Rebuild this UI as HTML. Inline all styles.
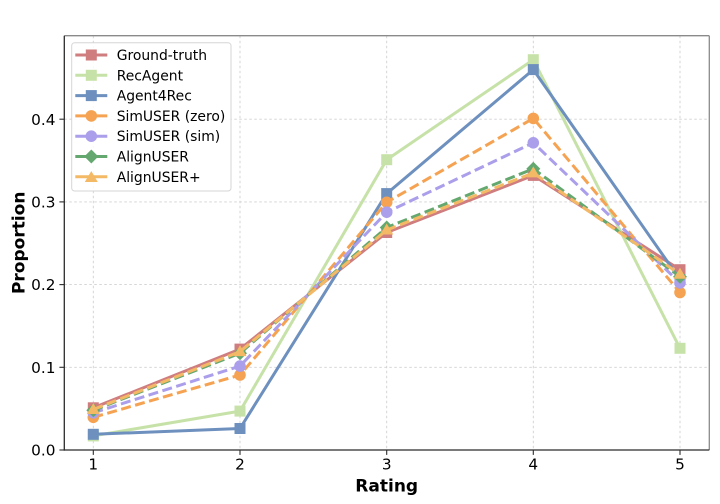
<!DOCTYPE html>
<html>
<head>
<meta charset="utf-8">
<style>
html,body{margin:0;padding:0;background:#fff;}
svg{display:block;}
text{font-family:"DejaVu Sans","Liberation Sans",sans-serif;fill:#000;}
</style>
</head>
<body>
<svg width="720" height="504" viewBox="0 0 720 504" xmlns="http://www.w3.org/2000/svg">
<rect x="0" y="0" width="720" height="504" fill="#fff"/>
<!-- grid -->
<g stroke="#d0d0d0" stroke-width="0.9" stroke-dasharray="2.5,2.5">
<line x1="93.3" y1="35.7" x2="93.3" y2="450"/>
<line x1="240" y1="35.7" x2="240" y2="450"/>
<line x1="386.7" y1="35.7" x2="386.7" y2="450"/>
<line x1="533.3" y1="35.7" x2="533.3" y2="450"/>
<line x1="680" y1="35.7" x2="680" y2="450"/>
<line x1="64.3" y1="367.3" x2="709.3" y2="367.3"/>
<line x1="64.3" y1="284.6" x2="709.3" y2="284.6"/>
<line x1="64.3" y1="201.9" x2="709.3" y2="201.9"/>
<line x1="64.3" y1="119.2" x2="709.3" y2="119.2"/>
</g>

<!-- series -->
<g fill="none" stroke-width="3" stroke-linejoin="round">
<!-- Ground-truth -->
<polyline stroke="#cf7d7e" points="93.3,407.8 240,349.1 386.7,232.5 533.3,175.4 680,269.7"/>
<g fill="#cf7d7e" stroke="none">
<rect x="87.8" y="402.3" width="11" height="11"/><rect x="234.5" y="343.6" width="11" height="11"/><rect x="381.2" y="227" width="11" height="11"/><rect x="527.8" y="169.9" width="11" height="11"/><rect x="674.5" y="264.2" width="11" height="11"/>
</g>
<!-- RecAgent -->
<polyline stroke="#c7e2a8" points="93.3,435.9 240,411.1 386.7,159.7 533.3,59.7 680,348.3"/>
<g fill="#c7e2a8" stroke="none">
<rect x="87.8" y="430.4" width="11" height="11"/><rect x="234.5" y="405.6" width="11" height="11"/><rect x="381.2" y="154.2" width="11" height="11"/><rect x="527.8" y="54.2" width="11" height="11"/><rect x="674.5" y="342.8" width="11" height="11"/>
</g>
<!-- Agent4Rec -->
<polyline stroke="#6d90be" points="93.3,434.3 240,428.5 386.7,193.6 533.3,69.6 680,279.6"/>
<g fill="#6d90be" stroke="none">
<rect x="87.8" y="428.8" width="11" height="11"/><rect x="234.5" y="423" width="11" height="11"/><rect x="381.2" y="188.1" width="11" height="11"/><rect x="527.8" y="64.1" width="11" height="11"/><rect x="674.5" y="274.1" width="11" height="11"/>
</g>
<!-- SimUSER zero -->
<polyline stroke="#f5a352" stroke-dasharray="10,4.5" points="93.3,417.3 240,375 386.7,202.3 533.3,118.4 680,292.5"/>
<g fill="#f5a352" stroke="none">
<circle cx="93.3" cy="417.3" r="5.8"/><circle cx="240" cy="375" r="5.8"/><circle cx="386.7" cy="202.3" r="5.8"/><circle cx="533.3" cy="118.4" r="5.8"/><circle cx="680" cy="292.5" r="5.8"/>
</g>
<!-- SimUSER sim -->
<polyline stroke="#ab9eea" stroke-dasharray="10,4.5" points="93.3,412.8 240,366.1 386.7,212.2 533.3,142.8 680,282.9"/>
<g fill="#ab9eea" stroke="none">
<circle cx="93.3" cy="412.8" r="5.8"/><circle cx="240" cy="366.1" r="5.8"/><circle cx="386.7" cy="212.2" r="5.8"/><circle cx="533.3" cy="142.8" r="5.8"/><circle cx="680" cy="282.9" r="5.8"/>
</g>
<!-- AlignUSER -->
<polyline stroke="#64a86f" stroke-dasharray="10,4.5" points="93.3,410.3 240,353.2 386.7,227.5 533.3,168.8 680,276.7"/>
<g fill="#64a86f" stroke="none">
<polygon points="93.3,403.3 100.3,410.3 93.3,417.3 86.3,410.3"/>
<polygon points="240,346.2 247,353.2 240,360.2 233,353.2"/>
<polygon points="386.7,220.5 393.7,227.5 386.7,234.5 379.7,227.5"/>
<polygon points="533.3,161.8 540.3,168.8 533.3,175.8 526.3,168.8"/>
<polygon points="680,269.7 687,276.7 680,283.7 673,276.7"/>
</g>
<!-- AlignUSER+ -->
<polyline stroke="#f4b965" stroke-dasharray="10,4.5" points="93.3,409.5 240,351.6 386.7,230 533.3,172.9 680,274.3"/>
<g fill="#f4b965" stroke="none">
<polygon points="93.3,403 99.8,414 86.8,414"/>
<polygon points="240,345.1 246.5,356.1 233.5,356.1"/>
<polygon points="386.7,223.5 393.2,234.5 380.2,234.5"/>
<polygon points="533.3,166.4 539.8,177.4 526.8,177.4"/>
<polygon points="680,267.8 686.5,278.8 673.5,278.8"/>
</g>
</g>

<!-- spines -->
<line x1="64.3" y1="35.7" x2="709.3" y2="35.7" stroke="#8a8a8a" stroke-width="1.3"/>
<line x1="709.3" y1="35.7" x2="709.3" y2="450" stroke="#8a8a8a" stroke-width="1.3"/>
<line x1="64.3" y1="35.7" x2="64.3" y2="450.6" stroke="#2b2b2b" stroke-width="1.3"/>
<line x1="63.7" y1="450" x2="709.3" y2="450" stroke="#2b2b2b" stroke-width="1.3"/>

<!-- ticks -->
<g stroke="#2b2b2b" stroke-width="1.1">
<line x1="59.4" y1="450" x2="64.3" y2="450"/>
<line x1="59.4" y1="367.3" x2="64.3" y2="367.3"/>
<line x1="59.4" y1="284.6" x2="64.3" y2="284.6"/>
<line x1="59.4" y1="201.9" x2="64.3" y2="201.9"/>
<line x1="59.4" y1="119.2" x2="64.3" y2="119.2"/>
<line x1="93.3" y1="450" x2="93.3" y2="454.9"/>
<line x1="240" y1="450" x2="240" y2="454.9"/>
<line x1="386.7" y1="450" x2="386.7" y2="454.9"/>
<line x1="533.3" y1="450" x2="533.3" y2="454.9"/>
<line x1="680" y1="450" x2="680" y2="454.9"/>
</g>

<!-- tick labels -->
<g font-size="15.3" text-anchor="end">
<text x="55.5" y="455.6">0.0</text>
<text x="55.5" y="372.9">0.1</text>
<text x="55.5" y="290.2">0.2</text>
<text x="55.5" y="207.5">0.3</text>
<text x="55.5" y="124.8">0.4</text>
</g>
<g font-size="15.3" text-anchor="middle">
<text x="93.3" y="469.3">1</text>
<text x="240" y="469.3">2</text>
<text x="386.7" y="469.3">3</text>
<text x="533.3" y="469.3">4</text>
<text x="680" y="469.3">5</text>
</g>

<!-- axis labels -->
<text x="386.7" y="491.5" font-size="17" font-weight="bold" text-anchor="middle">Rating</text>
<text transform="translate(24.3,242.8) rotate(-90)" font-size="17" font-weight="bold" text-anchor="middle">Proportion</text>

<!-- legend -->
<rect x="71.7" y="42.7" width="159.3" height="148.3" rx="3" ry="3" fill="#fff" fill-opacity="0.85" stroke="#d6d6d6" stroke-width="1"/>
<g stroke-width="3" fill="none">
<line x1="75.3" y1="55" x2="107.3" y2="55" stroke="#cf7d7e"/>
<line x1="75.3" y1="75.3" x2="107.3" y2="75.3" stroke="#c7e2a8"/>
<line x1="75.3" y1="95.6" x2="107.3" y2="95.6" stroke="#6d90be"/>
<line x1="75.3" y1="115.9" x2="107.3" y2="115.9" stroke="#f5a352"/>
<line x1="75.3" y1="136.2" x2="107.3" y2="136.2" stroke="#ab9eea"/>
<line x1="75.3" y1="156.5" x2="107.3" y2="156.5" stroke="#64a86f"/>
<line x1="75.3" y1="176.8" x2="107.3" y2="176.8" stroke="#f4b965"/>
</g>
<rect x="85.8" y="49.5" width="11" height="11" fill="#cf7d7e"/>
<rect x="85.8" y="69.8" width="11" height="11" fill="#c7e2a8"/>
<rect x="85.8" y="90.1" width="11" height="11" fill="#6d90be"/>
<circle cx="91.3" cy="115.9" r="5.8" fill="#f5a352"/>
<circle cx="91.3" cy="136.2" r="5.8" fill="#ab9eea"/>
<polygon points="91.3,149.5 98.3,156.5 91.3,163.5 84.3,156.5" fill="#64a86f"/>
<polygon points="91.3,171 97.8,182 84.8,182" fill="#f4b965"/>
<g font-size="13.9">
<text x="116.7" y="60">Ground-truth</text>
<text x="116.7" y="80.3">RecAgent</text>
<text x="116.7" y="100.6">Agent4Rec</text>
<text x="116.7" y="120.9">SimUSER (zero)</text>
<text x="116.7" y="141.2">SimUSER (sim)</text>
<text x="116.7" y="161.5">AlignUSER</text>
<text x="116.7" y="181.8">AlignUSER+</text>
</g>
</svg>
</body>
</html>
